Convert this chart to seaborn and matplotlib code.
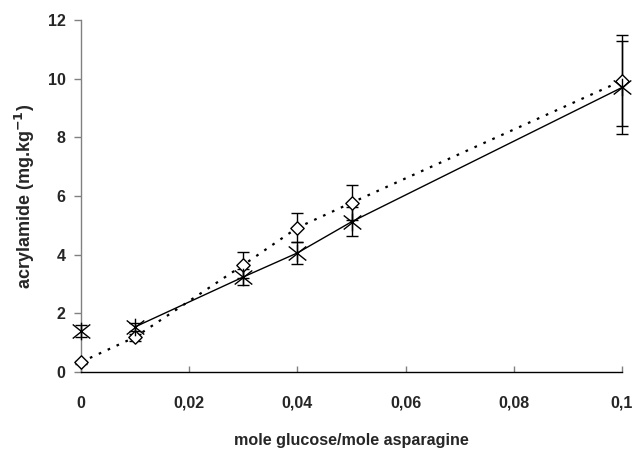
import matplotlib
matplotlib.use("Agg")
import matplotlib.pyplot as plt
from matplotlib.path import Path
import pandas as pd
import seaborn as sns

# glucose / asparagine molar ratio
ratio = [0.0, 0.01, 0.03, 0.04, 0.05, 0.1]

# acrylamide content, series drawn with open diamonds (dotted line)
diamond_y = [0.34, 1.19, 3.65, 4.92, 5.77, 9.93]
diamond_err = [0.05, 0.12, 0.45, 0.5, 0.6, 1.55]

# acrylamide content, series drawn with star markers (solid line)
star_y = [1.40, 1.54, 3.24, 4.06, 5.12, 9.70]
star_err = [0.2, 0.13, 0.27, 0.38, 0.5, 1.6]

xticks = [0, 0.02, 0.04, 0.06, 0.08, 0.1]
xtick_labels = ["0", "0,02", "0,04", "0,06", "0,08", "0,1"]
yticks = [0, 2, 4, 6, 8, 10, 12]

sns.set_style("white")
plt.rcParams["font.family"] = ["Liberation Sans", "DejaVu Sans"]
plt.rcParams["font.weight"] = "bold"
plt.rcParams["mathtext.default"] = "bf"

fig = plt.figure(figsize=(6.35, 4.5), dpi=100)
ax = fig.add_axes([0.1276, 0.1733, 0.852, 0.7823])

# star marker: an X crossed by a vertical stroke
star = Path(
    [(-1, -0.8), (1, 0.8), (-1, 0.8), (1, -0.8), (0, -1), (0, 1)],
    [Path.MOVETO, Path.LINETO, Path.MOVETO, Path.LINETO, Path.MOVETO, Path.LINETO],
)

df_d = pd.DataFrame({"ratio": ratio, "acrylamide": diamond_y})
df_s = pd.DataFrame({"ratio": ratio, "acrylamide": star_y})

# error bars
for yv, ev in ((diamond_y, diamond_err), (star_y, star_err)):
    _, caps, bars = ax.errorbar(ratio, yv, yerr=ev, fmt="none", ecolor="black",
                                elinewidth=1.0, capsize=4, capthick=1.0, zorder=2)
    for artist in list(caps) + list(bars):
        artist.set_clip_on(False)

# dotted trend through all diamond points
sns.lineplot(data=df_d, x="ratio", y="acrylamide", ax=ax, color="black",
             linewidth=1.6, linestyle=(0, (1.2, 3.2)), zorder=3, clip_on=False)
# solid trend for the star series, starting at the second point
sns.lineplot(data=df_s.iloc[1:], x="ratio", y="acrylamide", ax=ax, color="black",
             linewidth=1.0, zorder=3, clip_on=False)

sns.scatterplot(data=df_d, x="ratio", y="acrylamide", ax=ax, marker="D",
                s=46, facecolor="white", edgecolor="black", linewidth=1.0,
                zorder=4, clip_on=False)
sns.scatterplot(data=df_s, x="ratio", y="acrylamide", ax=ax, marker=star,
                s=160, color="black", edgecolor="black", linewidth=1.0,
                zorder=5, clip_on=False)

ax.set_xlim(0, 0.1)
ax.set_ylim(0, 12)
ax.set_xticks(xticks)
ax.set_xticklabels(xtick_labels)
ax.set_yticks(yticks)

for side in ("top", "right"):
    ax.spines[side].set_visible(False)
ax.spines["left"].set_color("#808080")
ax.spines["left"].set_linewidth(1.0)
ax.spines["bottom"].set_color("black")
ax.spines["bottom"].set_linewidth(1.0)

ax.tick_params(axis="y", direction="out", length=5, width=1, color="#808080",
               labelsize=11.5, pad=6, left=True)
ax.tick_params(axis="x", direction="in", length=4, width=1, color="#808080",
               labelsize=11.5, pad=17, bottom=True)
for lab in ax.get_xticklabels() + ax.get_yticklabels():
    lab.set_fontweight("bold")

ax.set_xlabel("mole glucose/mole asparagine", fontsize=11.6, fontweight="bold", labelpad=16)
ax.set_ylabel("acrylamide (mg.kg$^{-1}$)", fontsize=13, fontweight="bold", labelpad=8)
ax.grid(False)

fig.savefig("out.png", dpi=100)
